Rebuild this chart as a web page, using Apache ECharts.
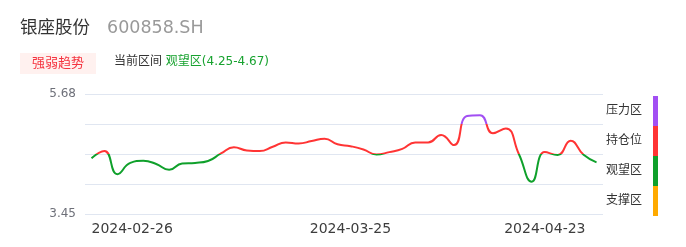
<!DOCTYPE html>
<html>
<head>
<meta charset="utf-8">
<script src="https://cdn.jsdelivr.net/npm/echarts@6/dist/echarts.min.js"></script>
<style>
html,body{margin:0;padding:0;background:#fff;}
#c{width:686px;height:247px;}
</style>
</head>
<body>
<div id="c"></div>
<script>
const stockName = '银座股份';
const stockCode = '600858.SH';
const tagText = '强弱趋势';
const rangeLabel = '当前区间';
const rangeValue = '观望区(4.25-4.67)';

const dates = ['2024-02-26','2024-02-27','2024-02-28','2024-02-29','2024-03-01','2024-03-04','2024-03-05','2024-03-06','2024-03-07','2024-03-08',
  '2024-03-11','2024-03-12','2024-03-13','2024-03-14','2024-03-15','2024-03-18','2024-03-19','2024-03-20','2024-03-21','2024-03-22',
  '2024-03-25','2024-03-26','2024-03-27','2024-03-28','2024-03-29','2024-04-01','2024-04-02','2024-04-03','2024-04-08','2024-04-09',
  '2024-04-10','2024-04-11','2024-04-12','2024-04-15','2024-04-16','2024-04-17','2024-04-18','2024-04-19','2024-04-22','2024-04-23'];
const values = [4.485,4.62,4.19,4.40,4.44,4.38,4.27,4.39,4.40,4.435,
  4.575,4.69,4.63,4.62,4.70,4.78,4.76,4.805,4.85,4.745,
  4.71,4.65,4.555,4.60,4.66,4.78,4.78,4.92,4.73,5.27,
  5.285,4.95,5.04,4.565,4.05,4.60,4.546,4.81,4.55,4.41];
const labelIdx = [0, 20, 39];
const yMin = 3.45, yMax = 5.68;
const zoneNames = ['支撑区','观望区','持仓位','压力区'];
const zoneBreaks = [4.0075, 4.565, 5.1225];
const zoneColors = ['#ffaa00','#0fa02b','#ff3434','#a24ff3'];

const chart = echarts.init(document.getElementById('c'));
const FF = "'DejaVu Sans','Noto Sans CJK SC',sans-serif";
chart.setOption({
  animation: false,
  textStyle: {fontFamily: FF},
  title: [
    {text: stockName, left: 20, top: 20, padding: 0, textStyle: {fontSize: 17.5, fontWeight: 'normal', color: '#333', fontFamily: FF}},
    {text: stockCode, left: 107, top: 20, padding: 0, textStyle: {fontSize: 17.5, fontWeight: 'normal', color: '#999', fontFamily: FF}},
    {text: tagText, left: 20, top: 53, padding: [4, 12], backgroundColor: '#fff1ef',
      textStyle: {fontSize: 13, lineHeight: 13, fontWeight: 'normal', color: '#f5333f', fontFamily: FF}},
    {text: rangeLabel + ' {g|' + rangeValue + '}', left: 114, top: 56, padding: 0,
      textStyle: {fontSize: 12, fontWeight: 'normal', color: '#333', fontFamily: FF,
        rich: {g: {fontSize: 12, color: '#17a22f', fontFamily: FF}}}}
  ],
  grid: {left: 85, right: 83, top: 94, bottom: 33},
  xAxis: {
    type: 'category', data: dates, boundaryGap: true,
    axisLine: {show: false}, axisTick: {show: false},
    axisLabel: {
      color: '#3d3d3d', fontSize: 14, margin: 8, fontFamily: FF,
      interval: function (i) { return labelIdx.indexOf(i) >= 0; },
      alignMinLabel: 'left', alignMaxLabel: 'right',
      formatter: function (v, i) { return i === dates.length - 1 ? '{r|' + v + '}' : v; },
      rich: {r: {fontSize: 14, color: '#3d3d3d', fontFamily: FF, padding: [0, 11, 0, 0]}}
    }
  },
  yAxis: [
    {type: 'value', min: yMin, max: yMax, splitLine: {show: false},
      axisLine: {show: false}, axisTick: {show: false},
      axisLabel: {customValues: [yMin, yMax], color: '#6e7079', fontSize: 12, margin: 9, fontFamily: FF,
        formatter: function (v) { return v.toFixed(2); }}},
    {type: 'value', min: 0, max: 4, interval: 1, position: 'left',
      axisLine: {show: false}, axisTick: {show: false}, axisLabel: {show: false},
      splitLine: {show: true, lineStyle: {color: '#e0e6f1', width: 1}}}
  ],
  visualMap: {
    type: 'piecewise', seriesIndex: 0, dimension: 1,
    right: 28, top: 96, padding: 0,
    itemWidth: 5, itemHeight: 30, itemGap: 0, itemSymbol: 'rect',
    align: 'right', textGap: 11, selectedMode: false, hoverLink: false,
    textStyle: {color: '#333', fontSize: 12, fontFamily: FF},
    pieces: [
      {lt: zoneBreaks[0], color: zoneColors[0], label: zoneNames[0]},
      {gte: zoneBreaks[0], lt: zoneBreaks[1], color: zoneColors[1], label: zoneNames[1]},
      {gte: zoneBreaks[1], lt: zoneBreaks[2], color: zoneColors[2], label: zoneNames[2]},
      {gte: zoneBreaks[2], color: zoneColors[3], label: zoneNames[3]}
    ]
  },
  series: [{
    type: 'line', data: values, yAxisIndex: 0, smooth: true, showSymbol: false,
    lineStyle: {width: 2}
  }]
});
</script>
</body>
</html>
